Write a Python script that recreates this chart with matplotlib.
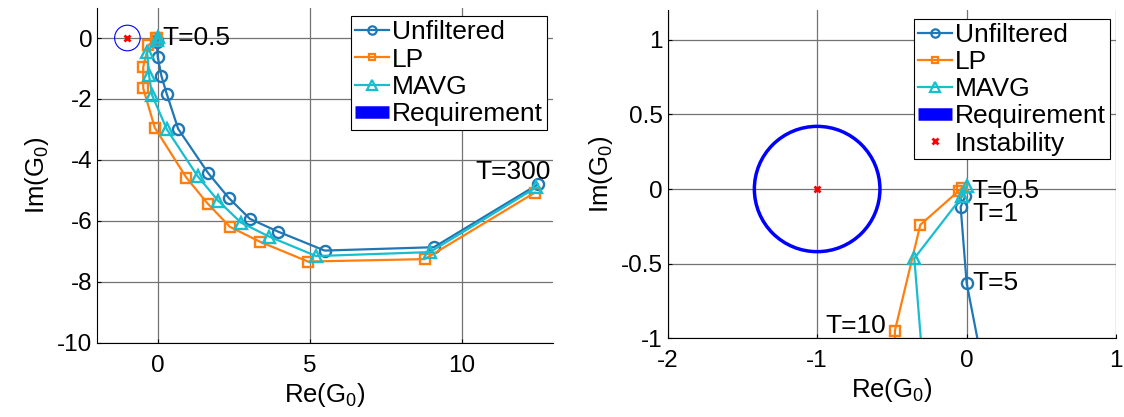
import numpy as np
import matplotlib
matplotlib.use("Agg")
import matplotlib.pyplot as plt
from matplotlib.lines import Line2D
from matplotlib.patches import Circle

plt.rcParams['font.family'] = ['Liberation Sans', 'DejaVu Sans']
plt.rcParams['mathtext.default'] = 'regular'
plt.rcParams['axes.unicode_minus'] = False

# Nyquist points (Re, Im) per filter, T = 0.5 ... 300
unf_re = [-0.01, -0.04, 0.00, 0.12, 0.29, 0.67, 1.65, 2.33, 3.03, 3.96, 5.49, 9.08, 12.50]
unf_im = [-0.05, -0.12, -0.63, -1.25, -1.82, -2.98, -4.42, -5.24, -5.93, -6.35, -6.97, -6.86, -4.80]

lp_re = [-0.03, -0.05, -0.31, -0.48, -0.48, -0.10, 0.94, 1.65, 2.37, 3.36, 4.94, 8.78, 12.40]
lp_im = [0.01, -0.01, -0.24, -0.95, -1.65, -2.94, -4.58, -5.44, -6.19, -6.68, -7.33, -7.25, -5.07]

mavg_re = [0.00, -0.03, -0.35, -0.29, -0.19, 0.30, 1.31, 1.98, 2.73, 3.66, 5.21, 8.95, 12.45]
mavg_im = [0.02, -0.05, -0.465, -1.21, -1.87, -3.00, -4.53, -5.33, -6.05, -6.51, -7.15, -7.02, -4.90]

crit_pt = (-1.0, 0.0)
req_radius = 0.42

c_unf = '#1f77b4'
c_lp = '#ff7f0e'
c_mavg = '#17becf'
c_req = '#0000ff'

fig = plt.figure(figsize=(11.24, 4.17), dpi=100)
ax1 = fig.add_axes([0.0863, 0.1775, 0.4057, 0.8045])
ax2 = fig.add_axes([0.594, 0.189, 0.399, 0.787])


def draw(ax, circ_lw):
    ax.plot(unf_re, unf_im, '-o', color=c_unf, lw=1.6, ms=8, mfc='none', mew=1.7, label='Unfiltered')
    ax.plot(lp_re, lp_im, '-s', color=c_lp, lw=1.6, ms=6.5, mfc='none', mew=1.7, label='LP')
    ax.plot(mavg_re, mavg_im, '-^', color=c_mavg, lw=1.6, ms=9, mfc='none', mew=1.7, label='MAVG')
    ax.add_patch(Circle(crit_pt, req_radius, fill=False, ec=c_req, lw=circ_lw, zorder=3))
    ax.plot(*crit_pt, 'x', color='red', ms=5, mew=2, zorder=4)
    ax.grid(True, color='0.45', lw=0.9)
    ax.set_axisbelow(True)
    for s in ['top', 'right']:
        ax.spines[s].set_visible(False)
    ax.tick_params(direction='in', length=3, labelsize=17.5)
    ax.tick_params(axis='x', pad=8.5)
    ax.set_xlabel('Re(G$_0$)', fontsize=18.5, labelpad=3)
    ax.set_ylabel('Im(G$_0$)', fontsize=18.5)


draw(ax1, 0.8)
ax1.set_xlim(-2, 13)
ax1.set_ylim(-10, 1)
ax1.set_xticks([0, 5, 10])
ax1.set_yticks([-10, -8, -6, -4, -2, 0])
ax1.text(0.15, 0, 'T=0.5', fontsize=19, va='center', ha='left')
ax1.text(10.45, -4.4, 'T=300', fontsize=19, va='center', ha='left')

draw(ax2, 2.5)
ax2.set_xlim(-2, 1)
ax2.set_ylim(-1, 1.2)
ax2.set_xticks([-2, -1, 0, 1])
ax2.set_yticks([-1, -0.5, 0, 0.5, 1])
ax2.set_yticklabels(['-1', '-0.5', '0', '0.5', '1'])
ax2.text(0.03, -0.01, 'T=0.5', fontsize=19, va='center', ha='left')
ax2.text(0.04, -0.17, 'T=1', fontsize=19, va='center', ha='left')
ax2.text(0.04, -0.63, 'T=5', fontsize=19, va='center', ha='left')
ax2.text(-0.54, -0.92, 'T=10', fontsize=19, va='center', ha='right')

h_base = [
    Line2D([], [], color=c_unf, marker='o', lw=1.6, ms=6, mfc='none', mew=1.6),
    Line2D([], [], color=c_lp, marker='s', lw=1.6, ms=5, mfc='none', mew=1.6),
    Line2D([], [], color=c_mavg, marker='^', lw=1.6, ms=7, mfc='none', mew=1.6),
    Line2D([], [], color=c_req, lw=9, solid_capstyle='butt'),
]
labels = ['Unfiltered', 'LP', 'MAVG', 'Requirement']
leg_kw = dict(loc='upper right', fontsize=19, frameon=True, fancybox=False,
              edgecolor='black', framealpha=1, handlelength=1.3, handletextpad=0.1,
              labelspacing=0.12, borderpad=0.15, borderaxespad=0.15)
l1 = ax1.legend(h_base, labels, bbox_to_anchor=(0.995, 0.985), **leg_kw)
l1.get_frame().set_linewidth(0.8)

h_inst = Line2D([], [], color='red', marker='x', ls='none', ms=5, mew=2)
l2 = ax2.legend(h_base + [h_inst], labels + ['Instability'], bbox_to_anchor=(0.995, 0.985), **leg_kw)
l2.get_frame().set_linewidth(0.8)

fig.savefig('out.png', dpi=100)
